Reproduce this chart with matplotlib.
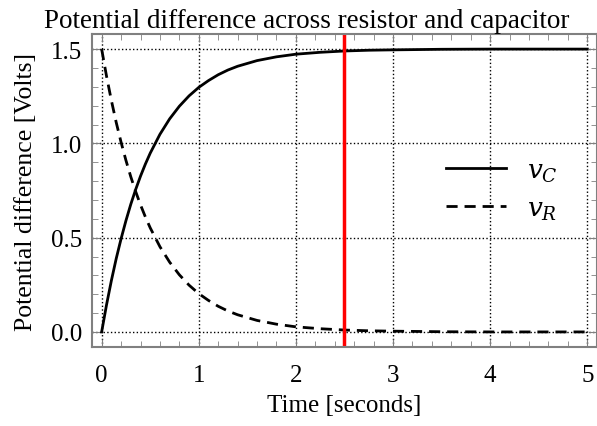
import matplotlib.pyplot as plt
from matplotlib.ticker import MultipleLocator

# Values
time = [0.0, 0.05, 0.1, 0.15, 0.2, 0.25, 0.3, 0.35, 0.4, 0.45, 0.5, 0.6, 0.7, 0.8, 0.9,
        1.0, 1.1, 1.2, 1.3, 1.4, 1.6, 1.8, 2.0, 2.25, 2.5, 2.75, 3.0, 3.5, 4.0, 4.5, 5.0]
v_c = [0.0, 0.143, 0.272, 0.389, 0.494, 0.590, 0.677, 0.755, 0.826, 0.890, 0.948,
       1.048, 1.130, 1.197, 1.252, 1.297, 1.333, 1.364, 1.389, 1.409, 1.439, 1.459,
       1.473, 1.483, 1.490, 1.494, 1.496, 1.499, 1.500, 1.500, 1.500]
v_r = [1.5, 1.357, 1.228, 1.111, 1.006, 0.910, 0.823, 0.745, 0.674, 0.610, 0.552,
       0.452, 0.370, 0.303, 0.248, 0.203, 0.167, 0.136, 0.111, 0.091, 0.061, 0.041,
       0.027, 0.017, 0.010, 0.006, 0.004, 0.001, 0.000, 0.000, 0.000]
marker_time = 2.5


def draw_graph():
    plt.rcParams['font.family'] = ['Liberation Serif', 'DejaVu Serif']
    plt.rcParams['mathtext.fontset'] = 'dejavuserif'

    fig = plt.figure(figsize=(5.97, 4.27), dpi=100)
    ax = fig.add_axes([0.154, 0.185, 0.846, 0.733])

    ax.plot(time, v_c, color='black', lw=2, label='$v_C$')
    ax.plot(time, v_r, color='black', lw=2, ls=(0, (4, 2.5)), label='$v_R$')
    ax.axvline(marker_time, color='red', lw=2.5)

    ax.set_xlim(-0.1, 5.1)
    ax.set_ylim(-0.08, 1.58)
    ax.xaxis.set_major_locator(MultipleLocator(1))
    ax.xaxis.set_minor_locator(MultipleLocator(0.2))
    ax.yaxis.set_major_locator(MultipleLocator(0.5))
    ax.yaxis.set_minor_locator(MultipleLocator(0.1))
    ax.yaxis.set_major_formatter(lambda v, p: f'{v:.1f}')
    ax.tick_params(which='both', direction='in', top=True, right=True,
                   color='gray', labelsize=18)
    ax.tick_params(which='major', length=6)
    ax.tick_params(which='minor', length=4)
    ax.tick_params(axis='x', pad=12)
    ax.tick_params(axis='y', pad=7)
    for s in ax.spines.values():
        s.set_color('gray')
        s.set_linewidth(1.5)
    ax.grid(which='major', color='black', ls=':', lw=1)

    ax.set_title('Potential difference across resistor and capacitor',
                 fontsize=19.5, pad=5, x=0.426)
    ax.set_xlabel('Time [seconds]', fontsize=18, labelpad=6)
    ax.set_ylabel('Potential difference [Volts]', fontsize=18.5, labelpad=10)
    ax.legend(loc='center right', bbox_to_anchor=(0.97, 0.5), frameon=False,
              fontsize=19, handlelength=2.3)

    fig.savefig('out.png', dpi=100)


def main():
    draw_graph()


if __name__ == "__main__":
    main()
